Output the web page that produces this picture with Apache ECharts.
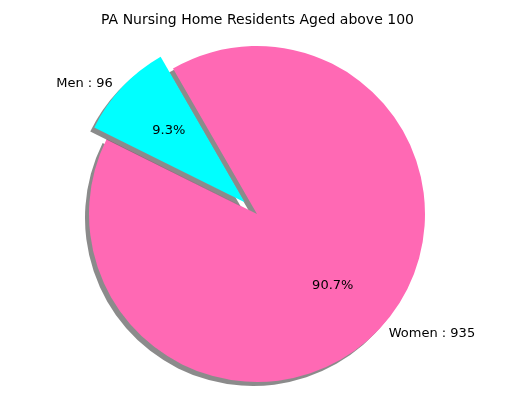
<!DOCTYPE html>
<html>
<head>
<meta charset="utf-8">
<script src="https://cdn.jsdelivr.net/npm/echarts@6/dist/echarts.min.js"></script>
<style>html,body{margin:0;padding:0;background:#fff}#chart{width:515px;height:409px}</style>
</head>
<body>
<div id="chart"></div>
<script>
var labels = ['Men', 'Women'];
var counts = [96, 935];
var colors = ['#00ffff', '#ff69b4'];

var total = counts[0] + counts[1];
var chart = echarts.init(document.getElementById('chart'));

var mainData = labels.map(function (name, i) {
	return {name: name, value: counts[i], selected: i === 0, itemStyle: {color: colors[i]}};
});
var pctData = labels.map(function (name, i) {
	return {name: name, value: counts[i], selected: i === 0};
});

var option = {
	animation: false,
	title: {
		text: 'PA Nursing Home Residents Aged above 100',
		left: 'center', top: 8,
		textStyle: {fontFamily: 'DejaVu Sans', fontSize: 14, fontWeight: 'normal', color: '#000'}
	},
	series: [
		{
			type: 'pie',
			center: [257, 214],
			radius: [0, 168],
			startAngle: 120,
			clockwise: false,
			selectedMode: 'single',
			selectedOffset: 17,
			silent: true,
			itemStyle: {shadowColor: 'rgba(90,90,90,0.7)', shadowOffsetX: -4, shadowOffsetY: 4, shadowBlur: 0},
			label: {
				position: 'outside',
				fontFamily: 'DejaVu Sans', fontSize: 13, color: '#000',
				formatter: function (p) { return p.name + ' : ' + p.value; }
			},
			labelLine: {show: false, length: 6, length2: 0},
			data: mainData
		},
		{
			type: 'pie',
			center: [257, 214],
			radius: [0, 202],
			startAngle: 120,
			clockwise: false,
			selectedMode: 'single',
			selectedOffset: 17,
			silent: true,
			itemStyle: {color: 'rgba(0,0,0,0)'},
			label: {
				position: 'inside',
				fontFamily: 'DejaVu Sans', fontSize: 13, color: '#000',
				formatter: function (p) { return (p.value / total * 100).toFixed(1) + '%'; }
			},
			data: pctData
		}
	]
};
chart.setOption(option);
</script>
</body>
</html>
